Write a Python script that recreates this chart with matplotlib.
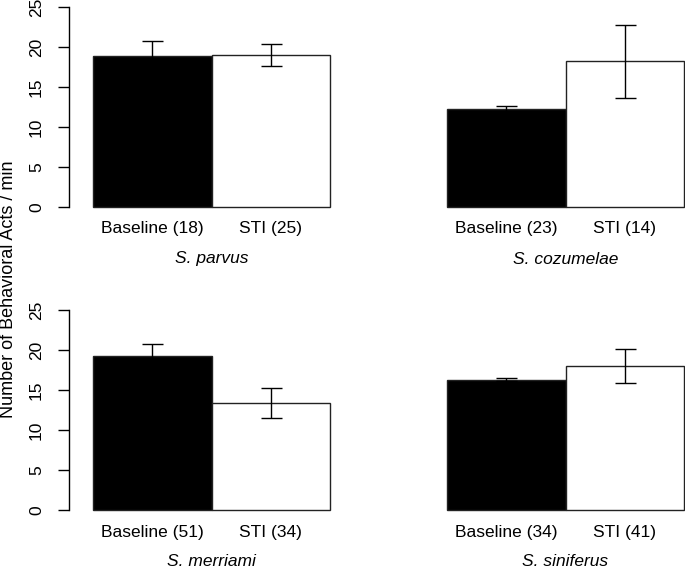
import matplotlib
matplotlib.use("Agg")
import matplotlib.pyplot as plt

plt.rcParams['font.family'] = ['Liberation Sans', 'DejaVu Sans']

species = ["S. parvus", "S. cozumelae", "S. merriami", "S. siniferus"]
groups = ["Baseline", "STI"]
n_baseline = [18, 23, 51, 34]
n_sti = [25, 14, 34, 41]
mean_baseline = [18.9, 12.2, 19.2, 16.3]
mean_sti = [19.0, 18.2, 13.4, 18.0]
err_baseline = [1.8, 0.45, 1.6, 0.2]
err_sti = [1.4, 4.6, 1.9, 2.15]
yticks = [0, 5, 10, 15, 20, 25]

W, H = 685, 568
fig = plt.figure(figsize=(W / 100, H / 100), dpi=100)

# panel pixel geometry: (axes left px, axes right px, y of zero px, y of 25 px)
px_per_unit = 118.5
panels = [(69, 339, 207, 7), (423, 685, 207, 7), (69, 339, 510, 310), (423, 685, 510, 310)]
xoff = (93 - 69) / px_per_unit

for i, (l, r, y0, y25) in enumerate(panels):
    ax = fig.add_axes([l / W, 1 - y0 / H, (r - l) / W, (y0 - y25) / H])
    ax.set_xlim(-xoff, -xoff + (r - l) / px_per_unit)
    ax.set_ylim(0, 25)
    vals = [mean_baseline[i], mean_sti[i]]
    errs = [err_baseline[i], err_sti[i]]
    ax.bar([0, 1], vals, width=1.0, align='edge', color=['black', 'white'],
           edgecolor='#222222', linewidth=1.0, clip_on=False, zorder=2)
    ax.errorbar([0.5, 1.5], vals, yerr=errs, fmt='none', ecolor='black',
                elinewidth=1.0, capsize=10.5 * 0.72, capthick=1.0, clip_on=False, zorder=3)
    for s in ['top', 'right', 'bottom']:
        ax.spines[s].set_visible(False)
    ax.set_xticks([])
    labels = [f"Baseline ({n_baseline[i]})", f"STI ({n_sti[i]})"]
    for j, lab in enumerate(labels):
        fig.text((l + (j + 0.5 + xoff) * px_per_unit) / W, 1 - (y0 + 22) / H, lab,
                 ha='center', va='center', fontsize=12.5)
    fig.text((l + (1.0 + xoff) * px_per_unit) / W, 1 - (y0 + 52) / H, species[i],
             ha='center', va='center', fontsize=12.5, style='italic')
    if i % 2 == 0:
        ax.spines['left'].set_linewidth(1.0)
        ax.spines['left'].set_bounds(0, 25)
        ax.set_yticks(yticks)
        ax.set_yticklabels([str(t) for t in yticks], rotation=90, va='center', fontsize=12.5)
        ax.tick_params(axis='y', length=8, width=1.0, pad=10)
    else:
        ax.spines['left'].set_visible(False)
        ax.set_yticks([])
    ax.patch.set_visible(False)

fig.text(9 / W, 1 - 289 / H, "Number of Behavioral Acts / min", rotation=90,
         ha='center', va='center', fontsize=13)

fig.savefig("out.png", dpi=100)
